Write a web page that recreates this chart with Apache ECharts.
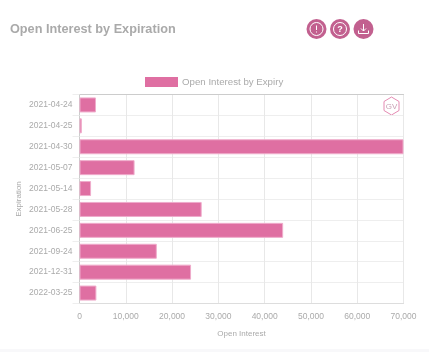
<!DOCTYPE html>
<html>
<head>
<meta charset="utf-8">
<script src="https://cdn.jsdelivr.net/npm/echarts@6/dist/echarts.min.js"></script>
<style>
  html, body { margin: 0; padding: 0; background: #fff; }
  #chart { width: 429px; height: 352px; }
</style>
</head>
<body>
<div id="chart"></div>
<script>
const expirations = ["2021-04-24", "2021-04-25", "2021-04-30", "2021-05-07", "2021-05-14",
  "2021-05-28", "2021-06-25", "2021-09-24", "2021-12-31", "2022-03-25"];
const openInterest = [3560, 500, 70000, 11900, 2500, 26400, 44000, 16700, 24100, 3650];

const font = "Liberation Sans";
const grey = "#aaaaaa";
const btnColor = "#c2608f";
const white = { stroke: "#fff", lineWidth: 1, fill: "none" };

const button = (cx, children) => ({
  type: "group",
  x: cx,
  y: 29,
  children: [{ type: "circle", shape: { r: 10 }, style: { fill: btnColor } }].concat(children),
});

const ring = { type: "circle", shape: { r: 6.5 }, style: white };

const chart = echarts.init(document.getElementById("chart"), null, { renderer: "canvas" });

chart.setOption({
  animation: false,
  textStyle: { fontFamily: font },
  title: {
    text: "Open Interest by Expiration",
    left: 10,
    top: 23,
    padding: 0,
    textStyle: { color: grey, fontSize: 12.7, fontWeight: "bold", fontFamily: font },
  },
  legend: {
    data: ["Open Interest by Expiry"],
    top: 77,
    left: 145,
    padding: 0,
    icon: "rect",
    itemWidth: 33,
    itemHeight: 10,
    itemGap: 4,
    itemStyle: { borderWidth: 0 },
    textStyle: { color: grey, fontSize: 9.7, fontFamily: font, padding: [0, 0, 2, -1] },
  },
  grid: { left: 79.5, right: 25.5, top: 94.5, bottom: 48.5, show: false },
  xAxis: [
    {
      type: "value",
      min: 0,
      max: 70000,
      interval: 10000,
      position: "bottom",
      name: "Open Interest",
      nameLocation: "middle",
      nameGap: 26,
      nameTextStyle: { color: grey, fontSize: 8, fontFamily: font },
      axisLine: { show: true, lineStyle: { color: "#dddddd" } },
      axisTick: { show: false },
      axisLabel: {
        color: grey,
        fontSize: 8.5,
        margin: 9,
        formatter: (v) => v.toLocaleString("en-US"),
      },
      splitLine: { show: true, lineStyle: { color: "#e8e8e8" } },
    },
    {
      type: "value",
      min: 0,
      max: 70000,
      position: "top",
      axisLine: { show: true, onZero: false, lineStyle: { color: "#cccccc" } },
      axisTick: { show: false },
      axisLabel: { show: false },
      splitLine: { show: false },
    },
  ],
  yAxis: {
    type: "category",
    inverse: true,
    data: expirations,
    name: "Expiration",
    nameLocation: "middle",
    nameGap: 57,
    nameMoveOverlap: false,
    nameTextStyle: { color: grey, fontSize: 8, fontFamily: font },
    axisLine: { show: true, lineStyle: { color: "#cccccc" } },
    axisTick: { show: true, length: 7, lineStyle: { color: "#eeeeee" } },
    axisLabel: { color: grey, fontSize: 8.5, margin: 7 },
    splitLine: { show: true, lineStyle: { color: "#eeeeee" } },
  },
  series: [
    {
      name: "Open Interest by Expiry",
      type: "bar",
      data: openInterest,
      barWidth: 15,
      itemStyle: { color: "#df6fa2", borderColor: "#efaccb", borderWidth: 1 },
    },
  ],
  graphic: [
    button(316.5, [
      ring,
      { type: "line", shape: { x1: 0, y1: -3.5, x2: 0, y2: 1 }, style: white },
      { type: "line", shape: { x1: 0, y1: 2.5, x2: 0, y2: 3.5 }, style: white },
    ]),
    button(340, [
      ring,
      { type: "text", style: { text: "?", x: 0, y: 0.5, fill: "#fff", font: "bold 9px " + font, align: "center", verticalAlign: "middle" } },
    ]),
    button(363.5, [
      { type: "line", shape: { x1: 0, y1: -5, x2: 0, y2: 2 }, style: white },
      { type: "polyline", shape: { points: [[-2.5, -0.5], [0, 2], [2.5, -0.5]] }, style: white },
      { type: "polyline", shape: { points: [[-5, 1.5], [-5, 4.5], [5, 4.5], [5, 1.5]] }, style: white },
    ]),
    {
      type: "polygon",
      shape: { points: [[391.5, 97], [399, 101.5], [399, 110.5], [391.5, 115], [384, 110.5], [384, 101.5]] },
      style: { fill: "none", stroke: "#e48ab2", lineWidth: 1 },
    },
    {
      type: "text",
      style: { text: "GV", x: 391.5, y: 106.5, fill: "#c9a0b4", font: "8px " + font, align: "center", verticalAlign: "middle" },
    },
    {
      type: "rect",
      shape: { x: 0, y: 349, width: 429, height: 3 },
      style: { fill: "#f8f8fa" },
    },
  ],
});

window.addEventListener("resize", () => chart.resize());
</script>
</body>
</html>
